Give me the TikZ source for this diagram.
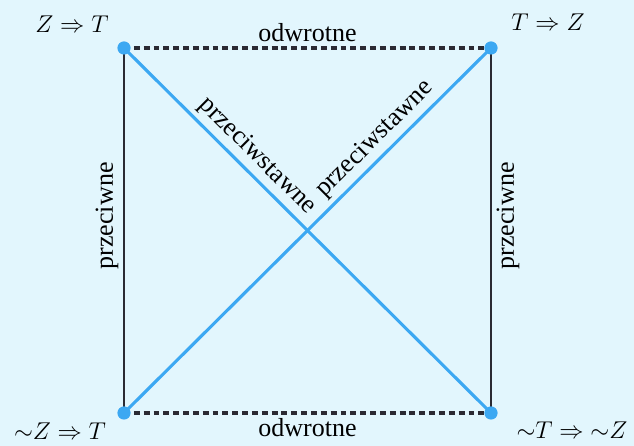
\documentclass[tikz,border=0pt]{standalone}
\usepackage{amsmath,amssymb}
\usepackage{fontspec}
\setmainfont{Liberation Serif}
\usetikzlibrary{calc}
\definecolor{lgback}{HTML}{E2F6FD}
\definecolor{lgblue}{HTML}{3CA8F2}
\definecolor{lgdark}{HTML}{2A2A33}
\tikzset{
  lgdot/.style={circle, fill=lgblue, inner sep=0pt, minimum size=0.33cm},
  lgside/.style={draw=lgdark, line width=1.9pt},
  lgdash/.style={draw=lgdark, line width=2.3pt, dash pattern=on 4.2pt off 2.8pt},
  lgdiag/.style={draw=lgblue, line width=2.2pt},
  lglabel/.style={font=\fontsize{18.5}{22}\selectfont, inner sep=3pt},
  lgstmt/.style={font=\fontsize{17.6}{21}\selectfont, inner sep=0pt},
}

\begin{document}
\begin{tikzpicture}[x=0.025cm, y=0.025cm]
  \fill[lgback] (0,0) rectangle (634,446);
  \useasboundingbox (0,0) rectangle (634,446);

  % corners of the square
  \coordinate (zt) at (124,398);
  \coordinate (tz) at (491,398);
  \coordinate (nzt) at (124,33);
  \coordinate (nts) at (491,33);

  % sides
  \draw[lgdash] (zt) -- node[above, lglabel] {odwrotne} (tz);
  \draw[lgdash] (nzt) -- node[below, lglabel] {odwrotne} (nts);
  \draw[lgside] (nzt) -- node[pos=0.54, sloped, above, lglabel] {przeciwne} (zt);
  \draw[lgside] (nts) -- node[pos=0.54, sloped, below, lglabel] {przeciwne} (tz);

  % diagonals
  \draw[lgdiag] (zt) -- node[pos=0.33, sloped, above, lglabel] {przeciwstawne} (nts);
  \draw[lgdiag] (nzt) -- node[pos=0.717, sloped, above, lglabel] {przeciwstawne} (tz);

  % dots and statements
  \node[lgdot] (dzt) at (zt) {};
  \node[lgdot] (dtz) at (tz) {};
  \node[lgdot] (dnzt) at (nzt) {};
  \node[lgdot] (dnts) at (nts) {};
  \node[lgstmt] (lzt) at (72,422) {$Z \Rightarrow T$};
  \node[lgstmt] (ltz) at (548,424) {$T \Rightarrow Z$};
  \node[lgstmt] (lnzt) at (60,15) {$\mathord{\sim} Z \Rightarrow T$};
  \node[lgstmt] (lnts) at (572,16) {$\mathord{\sim} T \Rightarrow \mathord{\sim} Z$};
\end{tikzpicture}
\end{document}
